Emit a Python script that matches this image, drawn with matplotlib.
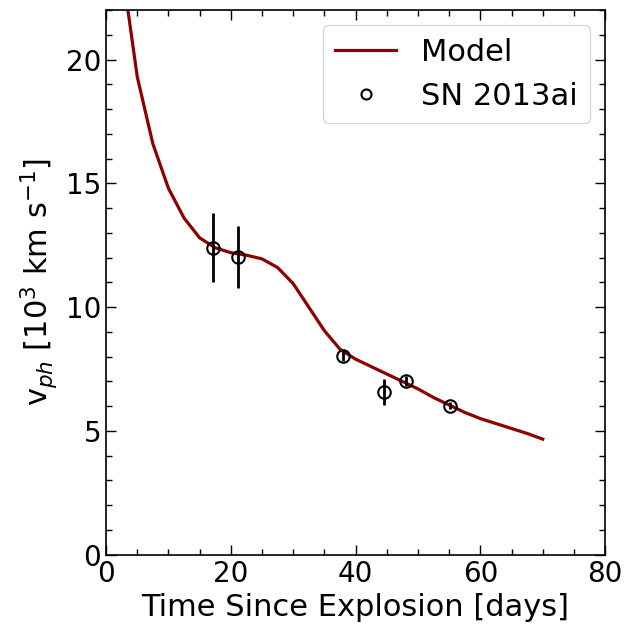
import numpy as np
import matplotlib.pyplot as plt
from matplotlib.ticker import MultipleLocator

# model photospheric velocity (10^3 km/s)
t_model = [2.5, 5, 7.5, 10, 12.5, 15, 17.5, 20, 22.5, 25, 27.5, 30, 32.5, 35,
           37.5, 40, 42.5, 45, 47.5, 50, 52.5, 55, 57.5, 60, 62.5, 65, 67.5, 70]
v_model = [23.8, 19.3, 16.6, 14.8, 13.6, 12.8, 12.4, 12.2, 12.1, 11.95, 11.6, 10.95, 10.0, 9.05,
           8.3, 7.9, 7.6, 7.3, 7.0, 6.7, 6.35, 6.05, 5.75, 5.5, 5.3, 5.1, 4.9, 4.67]

# SN 2013ai observations
t_obs = [17.2, 21.1, 37.9, 44.5, 48.0, 55.1]
v_obs = [12.4, 12.02, 8.02, 6.57, 7.03, 6.02]
v_err = [1.4, 1.25, 0.2, 0.53, 0.2, 0.15]

fig = plt.figure(figsize=(6.39, 6.29), dpi=100)
ax = fig.add_axes([0.166, 0.118, 0.781, 0.866])

ax.plot(t_model, v_model, color="darkred", lw=2.3, label="Model")
ax.errorbar(t_obs, v_obs, yerr=v_err, fmt="o", mfc="none", mec="black", ecolor="black",
            ms=9, mew=1.5, elinewidth=2, label="SN 2013ai")

ax.set_xlim(0, 80)
ax.set_ylim(0, 22)
ax.xaxis.set_major_locator(MultipleLocator(20))
ax.xaxis.set_minor_locator(MultipleLocator(5))
ax.yaxis.set_major_locator(MultipleLocator(5))
ax.yaxis.set_minor_locator(MultipleLocator(1))
ax.tick_params(which="both", direction="in", top=True, right=True, labelsize=20)
ax.tick_params(which="major", length=7, width=1)
ax.tick_params(which="minor", length=4, width=1)
for s in ax.spines.values():
    s.set_linewidth(1.2)

ax.set_xlabel("Time Since Explosion [days]", fontsize=22)
ax.set_ylabel(r"v$_{ph}$ [10$^3$ km s$^{-1}$]", fontsize=22)

h, l = ax.get_legend_handles_labels()
ax.legend([h[0], h[1][0]], l, loc="upper right", fontsize=22, markerscale=0.8)

plt.savefig("out.png", dpi=100)
